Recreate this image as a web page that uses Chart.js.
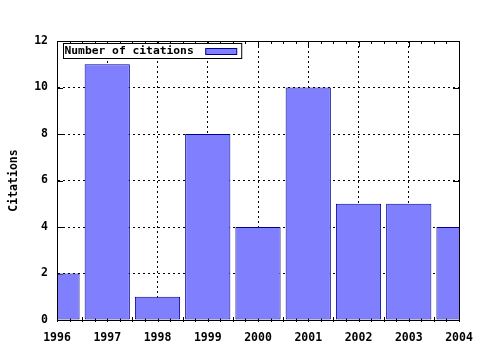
<!DOCTYPE html>
<html>
<head>
<meta charset="utf-8">
<script src="https://cdn.jsdelivr.net/npm/chart.js@4"></script>
<style>
  html, body { margin: 0; padding: 0; background: #fff; }
  #wrap { width: 480px; height: 350px; }
</style>
</head>
<body>
<div id="wrap"><canvas id="bar-chart"></canvas></div>
<script>
var years = [1996, 1997, 1998, 1999, 2000, 2001, 2002, 2003, 2004];
var citations = [2, 11, 1, 8, 4, 10, 5, 5, 4];
var seriesLabel = "Number of citations";
var yTitle = "Citations";

var monoFont = { family: "'DejaVu Sans Mono', monospace", size: 11.5, weight: 'bold' };

// inward ticks go under the bars, frame and legend on top (like gnuplot)
var gnuplotBits = {
  id: 'gnuplotBits',
  beforeDatasetsDraw: function (chart) {
    var ctx = chart.ctx, a = chart.chartArea;
    var x = chart.scales.x, y = chart.scales.y;
    ctx.save();
    ctx.strokeStyle = '#000';
    ctx.lineWidth = 1;
    ctx.beginPath();
    for (var v = x.min; v <= x.max + 1e-9; v += 0.25) {
      var px = Math.round(x.getPixelForValue(v)) + 0.5;
      var len = Math.abs(v - Math.round(v)) < 1e-9 ? 6 : 3;
      ctx.moveTo(px, a.bottom + 2); ctx.lineTo(px, a.bottom - len);
      ctx.moveTo(px, a.top); ctx.lineTo(px, a.top + len);
    }
    for (var t = y.min; t <= y.max; t += 2) {
      var py = Math.round(y.getPixelForValue(t)) + 0.5;
      ctx.moveTo(a.left, py); ctx.lineTo(a.left + 6, py);
      ctx.moveTo(a.right, py); ctx.lineTo(a.right - 6, py);
    }
    ctx.stroke();
    ctx.restore();
  },
  afterDraw: function (chart) {
    var ctx = chart.ctx, a = chart.chartArea;
    ctx.save();
    ctx.strokeStyle = '#000';
    ctx.lineWidth = 1;
    ctx.strokeRect(Math.round(a.left) + 0.5, Math.round(a.top) + 0.5,
                   Math.round(a.right - a.left), Math.round(a.bottom - a.top));

    var ds = chart.data.datasets[0];
    ctx.font = 'bold 11.3px "DejaVu Sans Mono", monospace';
    ctx.textBaseline = 'middle';
    var lx = Math.round(a.left) + 6.5, ly = Math.round(a.top) + 2.5;
    var tw = ctx.measureText(ds.label).width;
    ctx.fillStyle = '#fff';
    ctx.fillRect(lx, ly, tw + 49, 15);
    ctx.strokeRect(lx, ly, tw + 49, 15);
    ctx.fillStyle = '#000';
    ctx.fillText(ds.label, lx + 1, ly + 8);
    ctx.fillStyle = ds.backgroundColor;
    ctx.strokeStyle = ds.borderColor;
    ctx.fillRect(lx + tw + 13, ly + 5, 31, 6);
    ctx.strokeRect(lx + tw + 13, ly + 5, 31, 6);
    ctx.restore();
  }
};

var myBarChart = new Chart(document.getElementById("bar-chart"), {
  type: 'bar',
  data: {
    datasets: [{
      label: seriesLabel,
      backgroundColor: "#8080ff",
      borderColor: "#00008b",
      borderWidth: 1,
      borderSkipped: false,
      barPercentage: 0.9,
      categoryPercentage: 1.0,
      data: years.map(function (yr, i) { return { x: yr, y: citations[i] }; })
    }]
  },
  options: {
    responsive: true,
    maintainAspectRatio: false,
    animation: false,
    layout: { padding: { top: 41, right: 21, left: 0, bottom: 0 } },
    plugins: {
      legend: { display: false },
      tooltip: { enabled: false }
    },
    scales: {
      x: {
        type: 'linear',
        min: 1996,
        max: 2004,
        offset: false,
        grid: { offset: false, color: '#000', drawTicks: false },
        border: { display: true, color: '#000', dash: [2, 3] },
        ticks: {
          stepSize: 1,
          padding: 11,
          color: '#000',
          font: monoFont,
          callback: function (v) { return String(v); }
        },
        afterFit: function (s) {
          s.height = 30;
          s.paddingLeft = 0;
          s.paddingRight = 0;
        }
      },
      y: {
        min: 0,
        max: 12,
        grid: { color: '#000', drawTicks: false },
        border: { display: true, color: '#000', dash: [2, 3] },
        ticks: { stepSize: 2, padding: 9, color: '#000', font: monoFont },
        title: {
          display: true,
          text: yTitle,
          color: '#000',
          font: monoFont,
          padding: { top: 7, bottom: 0 }
        },
        afterFit: function (s) {
          s.width = 57;
          s.paddingTop = 0;
          s.paddingBottom = 0;
        }
      }
    }
  },
  plugins: [gnuplotBits]
});
</script>
</body>
</html>
